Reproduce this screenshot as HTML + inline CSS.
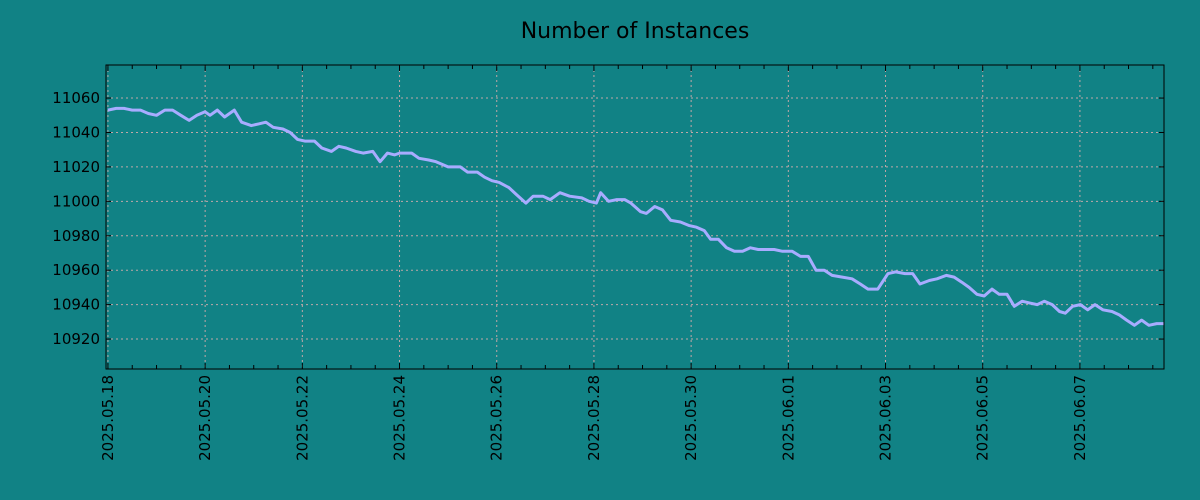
<!DOCTYPE html>
<html><head><meta charset="utf-8"><style>
html,body{margin:0;padding:0;background:#118285;}
svg{display:block;font-family:"DejaVu Sans","Liberation Sans",sans-serif;}
</style></head><body>
<svg id="chart" width="1200" height="500" xmlns="http://www.w3.org/2000/svg">
<rect x="0" y="0" width="1200" height="500" fill="#118285"/>
<text x="635" y="38" text-anchor="middle" font-size="22" fill="#000">Number of Instances</text>
<g id="grid"></g>
<g id="series"></g>
<g id="axes"></g>
</svg>
<script>
const times = [0,0.17,0.33,0.5,0.67,0.83,1.0,1.17,1.33,1.5,1.67,1.83,2.0,2.1,2.25,2.4,2.6,2.75,2.95,3.1,3.25,3.4,3.6,3.75,3.9,4.05,4.25,4.4,4.6,4.75,4.9,5.1,5.25,5.45,5.6,5.75,5.9,6.0,6.25,6.4,6.6,6.75,7.0,7.25,7.4,7.6,7.75,7.9,8.05,8.25,8.4,8.6,8.75,8.95,9.1,9.3,9.5,9.75,9.9,10.05,10.14,10.30,10.47,10.63,10.76,10.96,11.08,11.25,11.41,11.58,11.78,11.95,12.11,12.27,12.40,12.56,12.73,12.89,13.06,13.22,13.38,13.55,13.71,13.88,14.08,14.25,14.41,14.57,14.74,14.90,15.11,15.31,15.48,15.64,15.84,16.05,16.21,16.40,16.56,16.71,16.90,17.06,17.25,17.41,17.57,17.72,17.88,18.03,18.19,18.34,18.50,18.65,18.81,18.96,19.12,19.27,19.43,19.58,19.70,19.85,20.01,20.16,20.31,20.47,20.66,20.81,20.96,21.12,21.27,21.42,21.58,21.73];
const values = [11053,11054,11054,11053,11053,11051,11050,11053,11053,11050,11047,11050,11052,11050,11053,11049,11053,11046,11044,11045,11046,11043,11042,11040,11036,11035,11035,11031,11029,11032,11031,11029,11028,11029,11023,11028,11027,11028,11028,11025,11024,11023,11020,11020,11017,11017,11014,11012,11011,11008,11004,10999,11003,11003,11001,11005,11003,11002,11000,10999,11005,11000,11001,11001,10999,10994,10993,10997,10995,10989,10988,10986,10985,10983,10978,10978,10973,10971,10971,10973,10972,10972,10972,10971,10971,10968,10968,10960,10960,10957,10956,10955,10952,10949,10949,10958,10959,10958,10958,10952,10954,10955,10957,10956,10953,10950,10946,10945,10949,10946,10946,10939,10942,10941,10940,10942,10940,10936,10935,10939,10940,10937,10940,10937,10936,10934,10931,10928,10931,10928,10929,10929];
const yTicks = [10920,10940,10960,10980,11000,11020,11040,11060];
const xTickLabels = ["2025.05.18","2025.05.20","2025.05.22","2025.05.24","2025.05.26","2025.05.28","2025.05.30","2025.06.01","2025.06.03","2025.06.05","2025.06.07"];

const L=106,R=1164,T=65,B=369;
const tMin=-0.04,tMax=21.73;
const vMin=10902.6,vMax=11079.2;
const xs=t=>L+(t-tMin)/(tMax-tMin)*(R-L);
const ys=v=>B-(v-vMin)/(vMax-vMin)*(B-T);
const NS="http://www.w3.org/2000/svg";
function mk(tag,attrs,parent){const e=document.createElementNS(NS,tag);for(const k in attrs)e.setAttribute(k,attrs[k]);parent.appendChild(e);return e;}
const grid=document.getElementById('grid'),series=document.getElementById('series'),axes=document.getElementById('axes');

yTicks.forEach(v=>{
  const y=ys(v);
  const g=mk('line',{x1:L,x2:R,y1:y,y2:y,stroke:'#c0a8a8','stroke-width':1,'stroke-dasharray':'2,3'},grid);
  
  
  const t1=mk('line',{x1:L,x2:L+5,y1:y,y2:y,stroke:'#000'},axes);
  
  
  const t2=mk('line',{x1:R-5,x2:R,y1:y,y2:y,stroke:'#000'},axes);
  
  
  const lb=mk('text',{x:L-6,y:y+5,'text-anchor':'end','font-size':15,fill:'#000'},axes);
  lb.textContent=v;
  
  
});
for(let d=0;d<=21.5;d+=0.5){
  const x=xs(d);
  const major=(d%2===0);
  const tk=mk('line',{x1:x,x2:x,y1:B,y2:B-(major?6:4),stroke:'#000'},axes);
  
  
  const tk2=mk('line',{x1:x,x2:x,y1:T,y2:T+(major?6:4),stroke:'#000'},axes);
  
  
}
xTickLabels.forEach((s,i)=>{
  const x=xs(i*2);
  const g=mk('line',{x1:x,x2:x,y1:T,y2:B,stroke:'#c0a8a8','stroke-width':1,'stroke-dasharray':'2,3'},grid);
  
  
  const lb=mk('text',{x:0,y:0,'text-anchor':'end','font-size':15,fill:'#000',transform:`translate(${x+5},${B+6}) rotate(-90)`},axes);
  lb.textContent=s;
  
  
});
const pts=times.map((t,i)=>xs(t).toFixed(1)+','+ys(values[i]).toFixed(1)).join(' ');
const line=mk('polyline',{points:pts,fill:'none',stroke:'#a8acff','stroke-width':3,'stroke-linejoin':'round'},series);


const frame=mk('rect',{x:L,y:T,width:R-L,height:B-T,fill:'none',stroke:'#000','stroke-width':1},axes);


</script>
</body></html>
